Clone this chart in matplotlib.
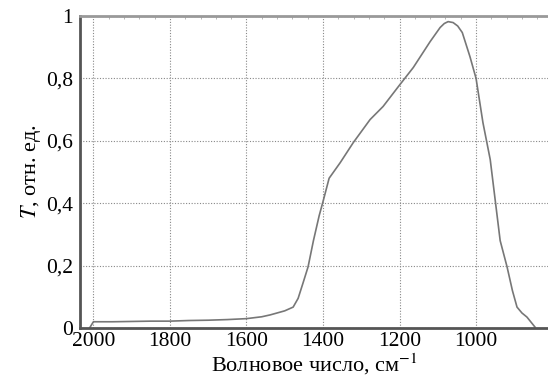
import matplotlib
matplotlib.use("Agg")
import matplotlib.pyplot as plt
from matplotlib.ticker import MultipleLocator

plt.rcParams['font.family'] = ['Liberation Serif', 'DejaVu Serif']
plt.rcParams['mathtext.fontset'] = 'stix'

# spectrum
wavenum = [2010, 2000, 1950, 1900, 1850, 1800, 1750, 1700, 1650, 1600, 1560, 1538,
           1500, 1478, 1465, 1452, 1439, 1425, 1410, 1400, 1384, 1355, 1321, 1277,
           1243, 1201, 1164, 1120, 1094, 1083, 1073, 1060, 1048, 1036, 1016, 1000,
           982, 963, 953, 937, 919, 905, 893, 880, 867, 846]
trans = [0.0, 0.02, 0.02, 0.021, 0.022, 0.022, 0.024, 0.025, 0.027, 0.03, 0.036, 0.042,
         0.055, 0.067, 0.095, 0.145, 0.196, 0.28, 0.36, 0.405, 0.48, 0.53, 0.594, 0.668,
         0.71, 0.777, 0.835, 0.918, 0.963, 0.976, 0.982, 0.979, 0.968, 0.947, 0.87, 0.80,
         0.658, 0.54, 0.44, 0.28, 0.196, 0.12, 0.067, 0.048, 0.035, 0.003]

xticks = [2000, 1800, 1600, 1400, 1200, 1000]
yticks = [0, 0.2, 0.4, 0.6, 0.8, 1.0]
ylabels = ['0', '0,2', '0,4', '0,6', '0,8', '1']

fig = plt.figure(figsize=(5.48, 3.83), dpi=100)
ax = fig.add_axes([0.146, 0.1436, 0.854, 0.8146])

ax.plot(wavenum, trans, color='#777777', lw=1.2)

ax.set_xlim(2035, 812)
ax.set_ylim(0, 1)
ax.set_xticks(xticks)
ax.set_yticks(yticks)
ax.set_yticklabels(ylabels)
ax.grid(True, which='major', color='#888888', ls=(0, (1, 1.5)), lw=0.8)

ax.xaxis.set_minor_locator(MultipleLocator(40))
ax.tick_params(which='major', length=0, labelsize=15.5, colors='black')
ax.tick_params(axis='x', which='major', pad=3)
ax.tick_params(axis='y', which='major', pad=5)
ax.tick_params(which='minor', direction='in', length=2, color='#aaaaaa',
               top=True, bottom=False, left=False)

for s in ['left', 'bottom']:
    ax.spines[s].set_linewidth(2)
    ax.spines[s].set_color('#555555')
ax.spines['top'].set_linewidth(2)
ax.spines['top'].set_color('#999999')
ax.spines['right'].set_visible(False)

ax.set_xlabel('Волновое число, см$^{\\mathrm{-1}}$', fontsize=16, labelpad=0)
ax.set_ylabel('$T$, отн. ед.', fontsize=16, labelpad=2)

fig.savefig('out.png', dpi=100)
